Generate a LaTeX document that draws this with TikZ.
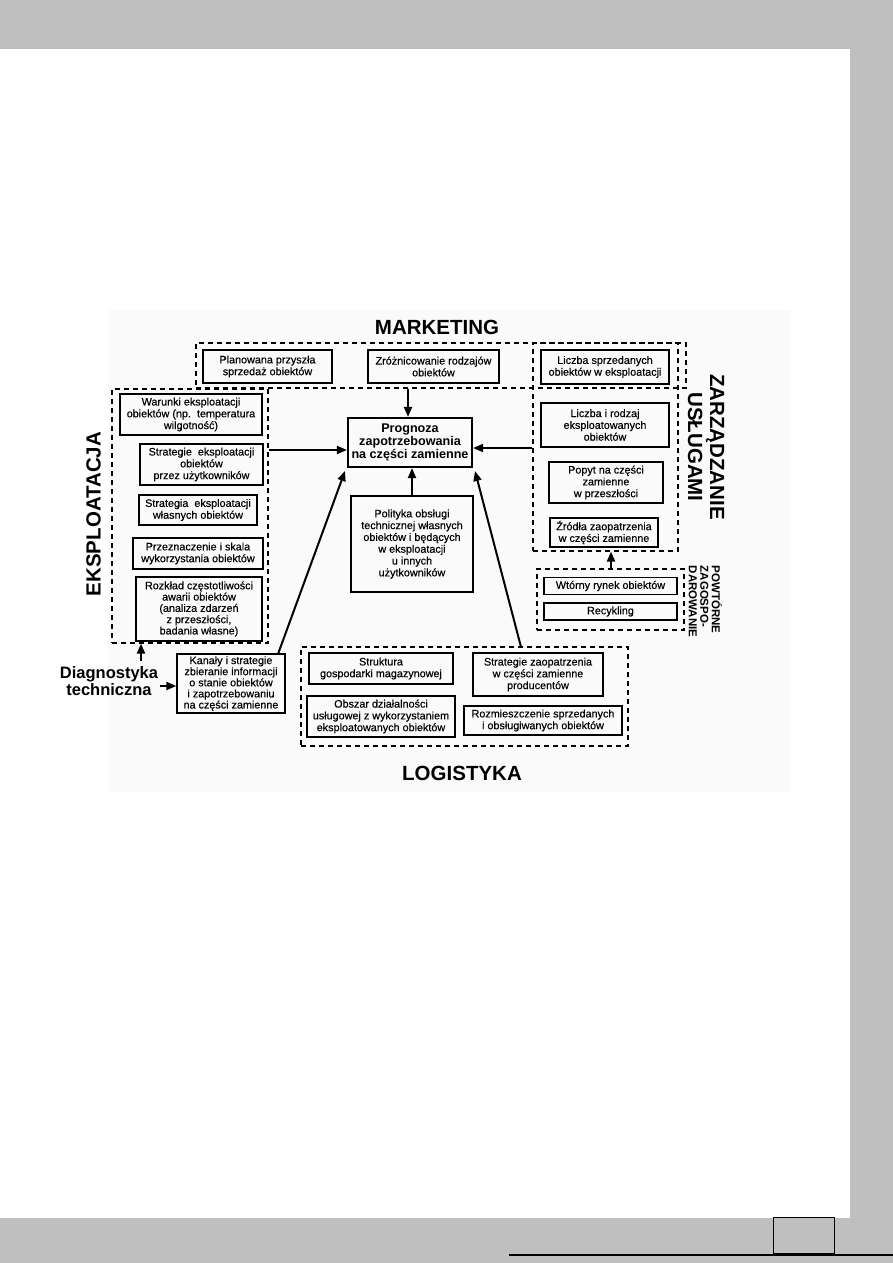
\documentclass[tikz,border=0pt]{standalone}
\usepackage{fontspec}
\setmainfont{Liberation Sans}
\newfontface\boxfont{Liberation Sans}[FakeBold=0.35]
\usetikzlibrary{arrows.meta}
\definecolor{frame}{HTML}{BFBFBF}
\tikzset{
  box/.style={draw=black, line width=1.3pt, align=center, inner sep=1pt,
    font=\boxfont\fontsize{10.8}{11.8}\selectfont},
  grp/.style={draw=black, line width=1.2pt, dash pattern=on 5pt off 4pt, inner sep=0pt},
  arr/.style={line width=2pt, -{Triangle[length=10pt,width=8pt]}},
  head/.style={font=\fontsize{20.5}{22}\selectfont\bfseries, inner sep=0pt, align=center},
}
\begin{document}
\begin{tikzpicture}[x=1pt,y=-1pt]
\useasboundingbox (0,0) rectangle (893,1263);
% page frame
\fill[frame] (0,0) rectangle (893,49);
\fill[frame] (850,0) rectangle (893,1263);
\fill[frame] (0,1218) rectangle (893,1263);
\draw[line width=0.8pt] (773,1217) rectangle (834,1253);
\draw[line width=1.6pt] (509,1255) -- (893,1255);
% diagram background
\fill[black!2] (108,310) rectangle (790,792);

% dashed groups
\node[grp, minimum width=490pt, minimum height=45pt] (mk) at (441,365.5) {};
\node[grp, minimum width=145pt, minimum height=208pt] (zu) at (605.5,447) {};
\node[grp, minimum width=156pt, minimum height=254pt] (eks) at (190,516) {};
\node[grp, minimum width=147pt, minimum height=61pt] (pow) at (610.5,599.5) {};
\node[grp, minimum width=327pt, minimum height=99pt] (log) at (464.5,696.5) {};

% headings
\node[head] (hmk) at (437,327) {MARKETING};
\node[head] (hlog) at (462,773) {LOGISTYKA};
\node[head, rotate=90] (heks) at (93.5,514) {EKSPLOATACJA};
\node[head, rotate=-90] (hzu) at (706,447) {ZARZĄDZANIE\\USŁUGAMI};
\node[font=\fontsize{11.5}{11.5}\selectfont\bfseries, rotate=-90, align=left, inner sep=0pt] (hpow) at (705.5,601.5) {POWTÓRNE\\ZAGOSPO-\\DAROWANIE};
\node[font=\fontsize{16.5}{17}\selectfont\bfseries, align=center, inner sep=0pt] (diag) at (109,681) {Diagnostyka\\techniczna};

% marketing boxes
\node[box, minimum width=129pt, minimum height=33pt] (plan) at (267.5,366.5) {Planowana przyszła\\sprzedaż obiektów};
\node[box, minimum width=131pt, minimum height=33pt] (zroz) at (433.5,366.5) {Zróżnicowanie rodzajów\\obiektów};
\node[box, minimum width=128pt, minimum height=34pt] (liczsp) at (605,367) {Liczba sprzedanych\\obiektów w eksploatacji};

% zarzadzanie boxes
\node[box, minimum width=128pt, minimum height=44pt] (liczrodz) at (605,425) {Liczba i rodzaj\\eksploatowanych\\obiektów};
\node[box, minimum width=114pt, minimum height=41pt] (popyt) at (606,482.5) {Popyt na części\\zamienne\\w przeszłości};
\node[box, minimum width=108pt, minimum height=29pt] (zrodla) at (604,532.5) {Źródła zaopatrzenia\\w części zamienne};

% powtorne
\node[box, minimum width=133pt, minimum height=17pt] (wtorny) at (610.5,586) {Wtórny rynek obiektów};
\node[box, minimum width=133pt, minimum height=17pt] (recyk) at (610.5,611.5) {Recykling};

% eksploatacja boxes
\node[box, minimum width=142pt, minimum height=41pt] (warunki) at (191,414.5) {Warunki eksploatacji\\obiektów (np.\ \ temperatura\\wilgotność)};
\node[box, minimum width=123pt, minimum height=41pt] (stratuz) at (201.5,464.5) {Strategie\ \ eksploatacji\\obiektów\\przez użytkowników};
\node[box, minimum width=118pt, minimum height=30pt] (stratwl) at (198,510) {Strategia\ \ eksploatacji\\własnych obiektów};
\node[box, minimum width=130pt, minimum height=31pt] (przezn) at (198,553.5) {Przeznaczenie i skala\\wykorzystania obiektów};
\node[box, minimum width=126pt, minimum height=64pt, font=\boxfont\fontsize{10.8}{11.3}\selectfont] (rozklad) at (199,609) {Rozkład częstotliwości\\awarii obiektów\\(analiza zdarzeń\\z przeszłości,\\badania własne)};

% kanaly
\node[box, minimum width=108pt, minimum height=59pt, inner sep=0.5pt, font=\boxfont\fontsize{10.8}{11.1}\selectfont] (kanaly) at (231,683.5) {Kanały i strategie\\zbieranie informacji\\o stanie obiektów\\i zapotrzebowaniu\\na części zamienne};

% central
\node[box, line width=2.2pt, minimum width=124pt, minimum height=49pt,
  font=\fontsize{12.6}{13.2}\selectfont\bfseries] (prog) at (410,442.5) {Prognoza\\zapotrzebowania\\na części zamienne};
\node[box, minimum width=122pt, minimum height=96pt] (polit) at (412,544) {Polityka obsługi\\technicznej własnych\\obiektów i będących\\w eksploatacji\\u innych\\użytkowników};

% logistyka boxes
\node[box, minimum width=144pt, minimum height=31pt] (strukt) at (381,668.5) {Struktura\\gospodarki magazynowej};
\node[box, minimum width=130pt, minimum height=43pt] (stratzaop) at (538,674.5) {Strategie zaopatrzenia\\w części zamienne\\producentów};
\node[box, minimum width=148pt, minimum height=41pt] (obszar) at (381,716.5) {Obszar działalności\\usługowej z wykorzystaniem\\eksploatowanych obiektów};
\node[box, minimum width=158pt, minimum height=29pt] (rozm) at (543,720.5) {Rozmieszczenie sprzedanych\\i obsługiwanych obiektów};

% connector end points
\coordinate (kanTR) at (278,654);
\coordinate (progBL) at (345,471);
\coordinate (logT) at (521,647);
\coordinate (progBR) at (475,471);

% arrows
\draw[arr] (mk.south -| 408,0) -- (prog.north -| 408,0);
\draw[arr] (eks.east |- 0,450) -- (prog.west |- 0,450);
\draw[arr] (zu.west |- 0,448) -- (prog.east |- 0,448);
\draw[arr] (polit.north) -- (prog.south -| polit.north);
\draw[arr] (kanTR) -- (progBL);
\draw[arr] (logT) -- (progBR);
\draw[arr] (pow.north -| 611,0) -- (zu.south -| 611,0);
\draw[arr] (141,661) -- (eks.south -| 141,0);
\draw[arr] (diag.east |- 0,686) ++(2,0) -- (kanaly.west |- 0,686);
\end{tikzpicture}
\end{document}
